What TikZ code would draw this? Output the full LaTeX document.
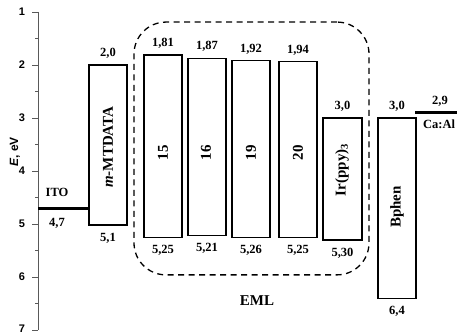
\documentclass[tikz,border=0pt]{standalone}
\usepackage{fontspec}
\setmainfont{Liberation Serif}
\setsansfont{Liberation Sans}
\usetikzlibrary{positioning,fit}

\begin{document}
\begin{tikzpicture}[x=1pt,y=-53pt,
        layer/.style={draw,line width=1.2pt,inner sep=0pt},
        electrode/.style={line width=3pt},
        emlbox/.style={draw,line width=1.3pt,dash pattern=on 6pt off 4.5pt,rounded corners=32pt,inner sep=0pt},
        axis/.style={draw=black!65,line width=0.9pt},
        num/.style={font=\fontsize{12.5}{14}\selectfont\bfseries,inner sep=1pt},
        material/.style={font=\fontsize{15}{17}\selectfont\bfseries,inner sep=1pt},
        ticklabel/.style={font=\sffamily\bfseries\fontsize{11}{13}\selectfont,inner sep=0.5pt}]
    \useasboundingbox (0,0.7736) rectangle (457,7.0755);

    % Energy axis
    \coordinate (axtop) at (38,1);
    \coordinate (axbot) at (38,7);
    \draw[axis] (axtop) -- (axbot);
    \foreach \e in {1,...,6} {
        \draw[axis] (38,\e) -- (32,\e);
        \node[ticklabel] (tick\e) at (22,\e) {\e};
    }
    \draw[axis] (axbot) -- (32,7);
    \node[ticklabel,anchor=base,inner sep=0pt] (tick7) at (22,7.045) {7};
    \foreach \e in {1.5,2.5,...,6.5}
        \draw[axis] (38,\e) -- (35,\e);
    \node[ticklabel,rotate=90,font=\sffamily\bfseries\fontsize{12}{14}\selectfont] (elabel) at (15,3.64) {\textit{E}, eV};

    % Anode
    \coordinate (ito-a) at (38,4.7);
    \coordinate (ito-b) at (88,4.7);
    \draw[electrode] (ito-a) -- (ito-b);
    \node[num] (ito) at (57,4.4) {ITO};
    \node[num] (ito-wf) at (57,4.98) {4,7};

    % Hole transport layer
    \node[layer,fit={(89,2.0) (127,5.02)}] (mtdata) {};
    \node[num,above=5pt of mtdata] (mtdata-lumo) {2,0};
    \node[num,below=6pt of mtdata] (mtdata-homo) {5,1};
    \node[material,rotate=90] (mtdata-name) at (108,3.55) {\textit{m}-MTDATA};

    % Emitting layer
    \node[emlbox,fit={(134,1.19) (369,5.96)}] (eml) {};
    \node[material] (eml-name) at (257,6.45) {EML};

    \node[layer,fit={(144,1.81) (182,5.25)}] (c15) {};
    \node[num,above=5pt of c15] (c15-lumo) {1,81};
    \node[num,below=6pt of c15] (c15-homo) {5,25};
    \node[material,rotate=90] (c15-name) at (163,3.66) {15};

    \node[layer,fit={(188,1.87) (226,5.21)}] (c16) {};
    \node[num,above=5pt of c16] (c16-lumo) {1,87};
    \node[num,below=6pt of c16] (c16-homo) {5,21};
    \node[material,rotate=90] (c16-name) at (206,3.66) {16};

    \node[layer,fit={(232,1.92) (270,5.26)}] (c19) {};
    \node[num,above=5pt of c19] (c19-lumo) {1,92};
    \node[num,below=6pt of c19] (c19-homo) {5,26};
    \node[material,rotate=90] (c19-name) at (251,3.66) {19};

    \node[layer,fit={(279,1.94) (317,5.25)}] (c20) {};
    \node[num,above=5pt of c20] (c20-lumo) {1,94};
    \node[num,below=6pt of c20] (c20-homo) {5,25};
    \node[material,rotate=90] (c20-name) at (298,3.66) {20};

    \node[layer,fit={(323,3.0) (362,5.30)}] (irppy) {};
    \node[num,above=5pt of irppy] (irppy-lumo) {3,0};
    \node[num,below=6pt of irppy] (irppy-homo) {5,30};
    \node[material,rotate=90] (irppy-name) at (342,3.98) {Ir(ppy)\textsubscript{3}};

    % Electron transport layer
    \node[layer,fit={(378,3.0) (416,6.4)}] (bphen) {};
    \node[num,above=5pt of bphen] (bphen-lumo) {3,0};
    \node[num,below=6pt of bphen] (bphen-homo) {6,4};
    \node[material,rotate=90] (bphen-name) at (397,4.68) {Bphen};

    % Cathode
    \coordinate (cal-a) at (415,2.9);
    \coordinate (cal-b) at (460,2.9);
    \draw[electrode] (cal-a) -- (cal-b);
    \node[num] (cal-wf) at (440,2.68) {2,9};
    \node[num,anchor=west] (cal) at (422,3.11) {Ca:Al};
\end{tikzpicture}
\end{document}
